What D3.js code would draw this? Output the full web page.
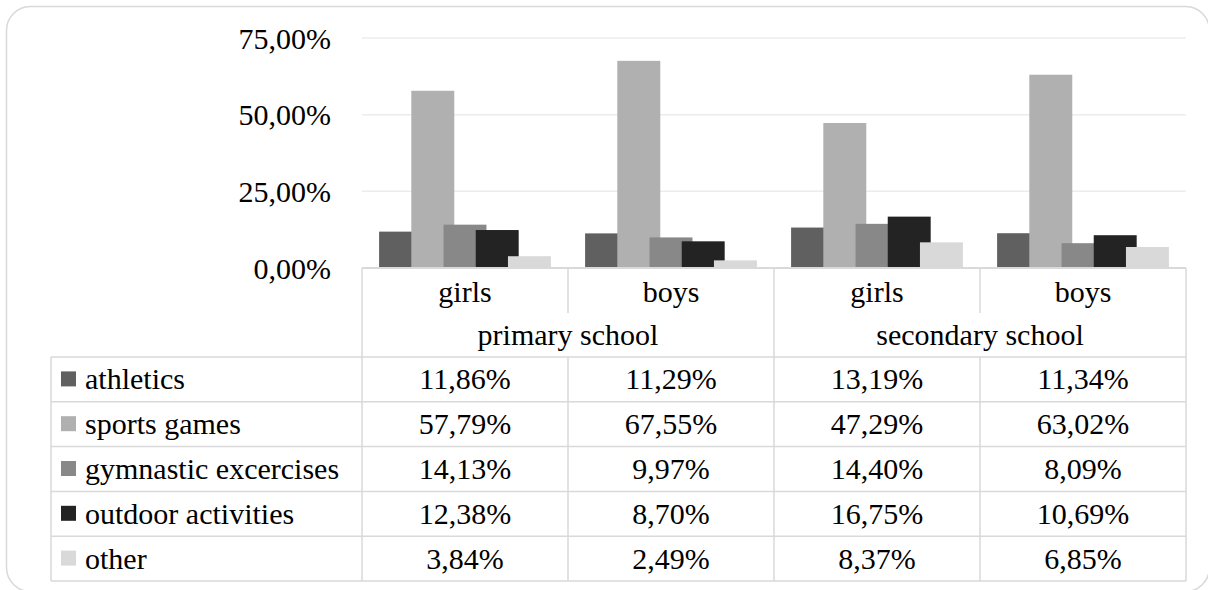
<!DOCTYPE html>
<html>
<head>
<meta charset="utf-8">
<script src="https://cdn.jsdelivr.net/npm/d3@7"></script>
<style>
  html, body { margin: 0; padding: 0; background: #fff; }
  svg { display: block; }
  svg text { font-family: "Liberation Serif", Tinos, "Times New Roman", Times, "DejaVu Serif", "Noto Serif", serif; fill: #000; }
</style>
</head>
<body>
<svg id="chart" width="1208" height="590"></svg>
<script>
// Share of preferred physical activities, by school level and gender (%)
const groups = ["primary school", "secondary school"];
const genders = ["girls", "boys"];
const categories = ["primary girls", "primary boys", "secondary girls", "secondary boys"];
const seriesNames = ["athletics", "sports games", "gymnastic excercises", "outdoor activities", "other"];
const athletics = [11.86, 11.29, 13.19, 11.34];
const sportsGames = [57.79, 67.55, 47.29, 63.02];
const gymnastic = [14.13, 9.97, 14.40, 8.09];
const outdoor = [12.38, 8.70, 16.75, 10.69];
const other = [3.84, 2.49, 8.37, 6.85];
const yTicks = [0, 25, 50, 75];
const seriesColors = ["#606060", "#b0b0b0", "#888888", "#232323", "#d9d9d9"];

const seriesValues = [athletics, sportsGames, gymnastic, outdoor, other];

const svg = d3.select("#chart");
const W = 1208, H = 590;
const plotL = 362, plotR = 1186, plotB = 268, plotT = 38;
const tableL = 51, tableB = 581;
const rowTop = 357, rowH = (tableB - rowTop) / 5;
const catRowB = 313;
const fmt = v => v.toFixed(2).replace(".", ",") + "%";
const FONT = '"Liberation Serif", Tinos, "Times New Roman", Times, "DejaVu Serif", "Noto Serif", serif';

const grid = "#d9d9d9";

// outer frame
svg.append("rect")
  .attr("x", 6.5).attr("y", 6.5)
  .attr("width", W - 5).attr("height", H - 5)
  .attr("rx", 24).attr("ry", 24)
  .attr("fill", "#fff").attr("stroke", "#d9d9d9").attr("stroke-width", 1.5);

const x = d3.scaleBand().domain(categories).range([plotL, plotR]).paddingInner(0).paddingOuter(0);
const y = d3.scaleLinear().domain([0, 75]).range([plotB, plotT]);

// value gridlines
svg.append("g").selectAll("line")
  .data(yTicks.filter(t => t > 0))
  .join("line")
  .attr("x1", plotL).attr("x2", plotR)
  .attr("y1", d => y(d)).attr("y2", d => y(d))
  .attr("stroke", "#ececec").attr("stroke-width", 1.5);

// value axis labels
const yAxis = d3.axisLeft(y).tickValues(yTicks).tickFormat(fmt).tickSize(0).tickPadding(0);
const yg = svg.append("g").attr("transform", `translate(331,0)`).call(yAxis)
  .attr("font-family", FONT).attr("font-size", 30);
yg.select(".domain").remove();
yg.selectAll("text")
  .style("font-family", FONT)
  .attr("font-size", 30)
  .attr("fill", "#000")
  .attr("dy", 0).attr("y", 10);

// clustered, overlapping bars
const catW = x.bandwidth();
const barW = catW * 0.2085;
const step = barW * 0.75;
const pad = (catW - (4 * step + barW)) / 2;
const sub = d3.scalePoint().domain(seriesNames).range([pad, pad + 4 * step]);

seriesNames.forEach((name, si) => {
  svg.append("g").selectAll("rect")
    .data(categories.map((c, ci) => ({ c, v: seriesValues[si][ci] })))
    .join("rect")
    .attr("x", d => x(d.c) + sub(name))
    .attr("width", barW)
    .attr("y", d => y(d.v))
    .attr("height", d => y(0) - y(d.v))
    .attr("fill", seriesColors[si]);
});

// data table grid
const tg = svg.append("g").attr("stroke", grid).attr("fill", "none");
tg.append("line").attr("x1", plotL).attr("x2", plotR).attr("y1", plotB).attr("y2", plotB).attr("stroke-width", 2);
for (let i = 0; i <= 5; i++) {
  const yy = rowTop + i * rowH;
  tg.append("line").attr("x1", tableL).attr("x2", plotR).attr("y1", yy).attr("y2", yy).attr("stroke-width", 1.5);
}
tg.append("line").attr("x1", tableL).attr("x2", tableL).attr("y1", rowTop).attr("y2", tableB).attr("stroke-width", 1.5);
tg.append("line").attr("x1", plotL).attr("x2", plotL).attr("y1", plotB).attr("y2", tableB).attr("stroke-width", 1.5);
tg.append("line").attr("x1", plotR).attr("x2", plotR).attr("y1", plotB).attr("y2", tableB).attr("stroke-width", 1.5);
categories.forEach((c, i) => {
  if (i === 0) return;
  const xx = x(c);
  const full = i === 2;
  tg.append("line").attr("x1", xx).attr("x2", xx)
    .attr("y1", plotB).attr("y2", full ? tableB : catRowB).attr("stroke-width", 1.5);
  if (!full) {
    tg.append("line").attr("x1", xx).attr("x2", xx)
      .attr("y1", rowTop).attr("y2", tableB).attr("stroke-width", 1.5);
  }
});

// category labels
svg.append("g").selectAll("text")
  .data(categories)
  .join("text")
  .attr("x", d => x(d) + catW / 2)
  .attr("y", 302)
  .attr("text-anchor", "middle")
  .attr("font-size", 30)
  .text((d, i) => genders[i % 2]);

// group labels
svg.append("g").selectAll("text")
  .data(groups)
  .join("text")
  .attr("x", (d, i) => x(categories[i * 2]) + catW)
  .attr("y", 345)
  .attr("text-anchor", "middle")
  .attr("font-size", 30)
  .text(d => d);

// table rows: legend key, series name, values
seriesNames.forEach((name, si) => {
  const cy = rowTop + si * rowH + rowH / 2;
  const row = svg.append("g");
  row.append("rect")
    .attr("x", 61).attr("y", cy - 8).attr("width", 15).attr("height", 15)
    .attr("fill", seriesColors[si]);
  row.append("text")
    .attr("x", 85).attr("y", cy + 10)
    .attr("font-size", 30)
    .text(name);
  row.selectAll("text.val")
    .data(seriesValues[si])
    .join("text")
    .attr("class", "val")
    .attr("x", (d, i) => x(categories[i]) + catW / 2)
    .attr("y", cy + 10)
    .attr("text-anchor", "middle")
    .attr("font-size", 30)
    .text(d => fmt(d));
});
</script>
</body>
</html>
